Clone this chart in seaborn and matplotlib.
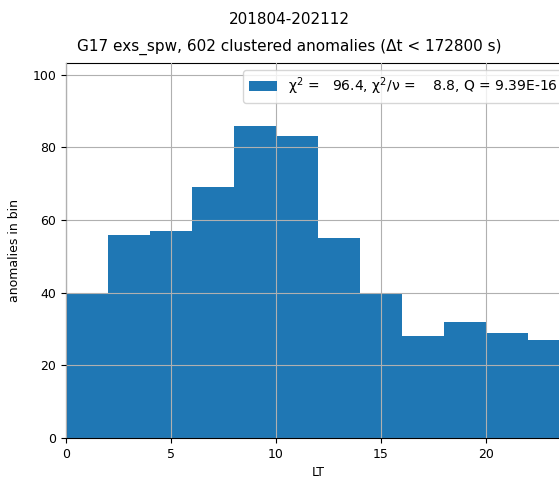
import numpy as np
import matplotlib
matplotlib.use("Agg")
import matplotlib.pyplot as plt
import seaborn as sns

bin_edges = [0, 2, 4, 6, 8, 10, 12, 14, 16, 18, 20, 22, 24]
counts = [40, 56, 57, 69, 86, 83, 55, 40, 28, 32, 29, 27]
title1 = "201804-202112"
title2 = "G17 exs_spw, 602 clustered anomalies (Δt < 172800 s)"
legend_label = "χ$^2$ =   96.4, χ$^2$/ν =    8.8, Q = 9.39E-16"

centers = [(a + b) / 2 for a, b in zip(bin_edges[:-1], bin_edges[1:])]

fig = plt.figure(figsize=(5.59, 4.8), dpi=100)
ax = fig.add_axes([66 / 559, 42 / 480, 504 / 559, 375 / 480])

sns.histplot(x=centers, weights=counts, bins=bin_edges, ax=ax,
             color="#1f77b4", alpha=1, edgecolor="none", linewidth=0,
             label=legend_label)

ax.set_xlim(0, 24)
ax.set_ylim(0, max(counts) * 1.2)
ax.grid(True, color="#b0b0b0", linewidth=0.8)
ax.set_axisbelow(False)
ax.tick_params(labelsize=9)
ax.set_xlabel("LT", fontsize=9)
ax.set_ylabel("anomalies in bin", fontsize=9, labelpad=8)
ax.legend(loc="upper right", fontsize=10)

fig.text(289 / 559, 1 - 20 / 480, title1, ha="center", va="center", fontsize=11)
fig.text(289 / 559, 1 - 47 / 480, title2, ha="center", va="center", fontsize=11)

fig.savefig("out.png", dpi=100)
